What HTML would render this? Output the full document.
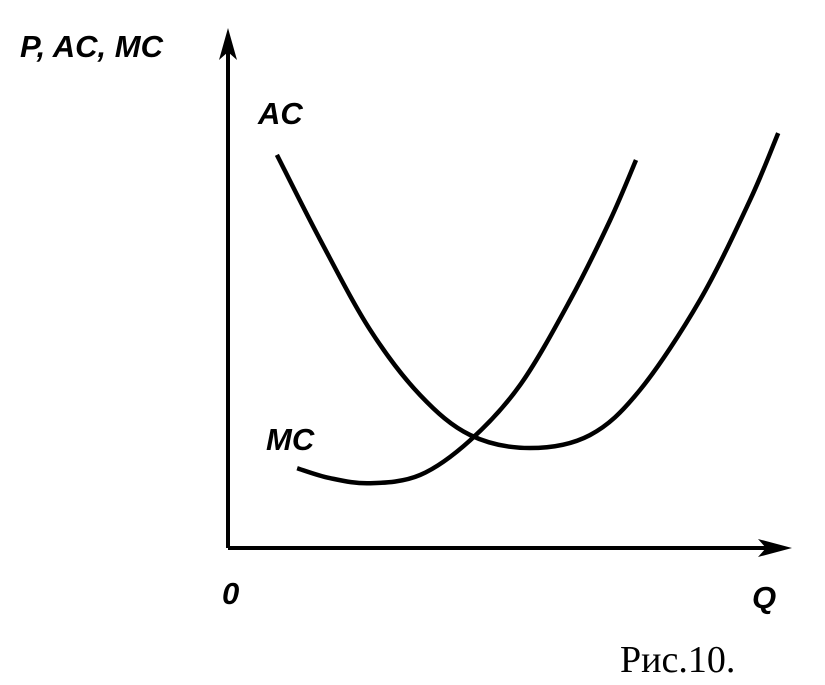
<!DOCTYPE html>
<html><head><meta charset="utf-8"><style>
body{margin:0;background:#fff;width:825px;height:685px;overflow:hidden}
svg{display:block}
.lbl{font-family:"Liberation Sans",sans-serif;font-weight:bold;font-style:italic;font-size:31px;fill:#000}
</style></head><body>
<svg width="825" height="685">
<g id="axes">
<line x1="228" y1="548" x2="228" y2="40" stroke="#000" stroke-width="4"/>
<polygon points="228,28 219,60 228,52 237,60" fill="#000"/>
<line x1="228" y1="548" x2="780" y2="548" stroke="#000" stroke-width="4"/>
<polygon points="792,548 758,539 766,548 758,557" fill="#000"/>
</g>
<text class="lbl" x="20" y="57">P, AC, MC</text>
<text class="lbl" x="258" y="124">AC</text>
<text class="lbl" x="266" y="450">MC</text>
<text class="lbl" x="222" y="604">0</text>
<text class="lbl" x="752" y="608">Q</text>
<text x="620" y="672" style="font-family:'Liberation Serif',serif;font-size:38px">Рис.10.</text>
<g id="series"></g>
</svg>
<script>
const acQ=[8.7,16.4,25.3,34.2,43.1,53.7,64.4,73.3,84.0,92.9,97.9];
const acP=[75.9,59.5,42.1,29.5,21.8,19.3,21.8,30.5,47.9,67.2,80.1];
const mcQ=[12.3,18.1,25.3,34.2,43.1,52.0,60.9,68.0,72.6];
const mcP=[15.4,13.5,12.5,14.1,20.8,31.5,47.9,63.3,74.9];
function xs(q){return 228+q*5.62;}
function ys(p){return 548-p*5.18;}
function pathFor(Q,P){
  const pts=Q.map((q,i)=>[xs(q),ys(P[i])]);
  let d='M'+pts[0][0]+','+pts[0][1];
  for(let i=0;i<pts.length-1;i++){
    const p0=pts[i-1]||pts[i],p1=pts[i],p2=pts[i+1],p3=pts[i+2]||p2;
    const c1=[p1[0]+(p2[0]-p0[0])/6,p1[1]+(p2[1]-p0[1])/6];
    const c2=[p2[0]-(p3[0]-p1[0])/6,p2[1]-(p3[1]-p1[1])/6];
    d+=' C'+c1+' '+c2+' '+p2;
  }
  return d;
}
const g=document.getElementById('series');
const ns='http://www.w3.org/2000/svg';
const ac=document.createElementNS(ns,'path');
ac.setAttribute('d',pathFor(acQ,acP));
ac.setAttribute('fill','none');ac.setAttribute('stroke','#000');ac.setAttribute('stroke-width','4.5');


g.appendChild(ac);
const mc=document.createElementNS(ns,'path');
mc.setAttribute('d',pathFor(mcQ,mcP));
mc.setAttribute('fill','none');mc.setAttribute('stroke','#000');mc.setAttribute('stroke-width','4.5');


g.appendChild(mc);
</script>
</body></html>
